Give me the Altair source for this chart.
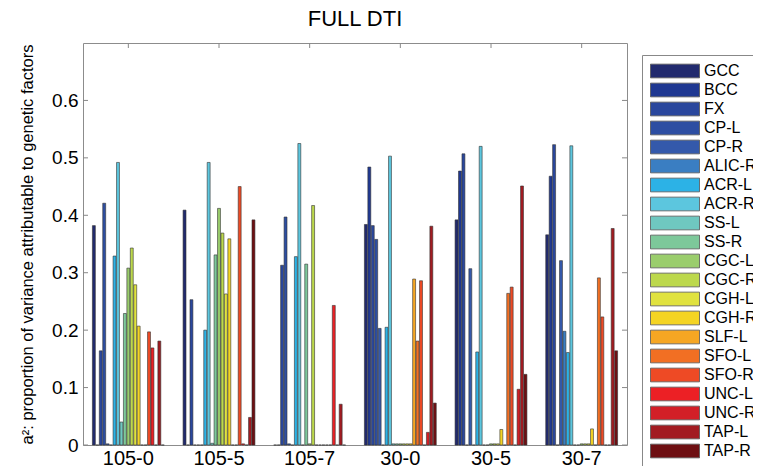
import altair as alt
import pandas as pd

groups = ["105-0", "105-5", "105-7", "30-0", "30-5", "30-7"]
regions = ["GCC", "BCC", "FX", "CP-L", "CP-R", "ALIC-R", "ACR-L", "ACR-R", "SS-L", "SS-R",
           "CGC-L", "CGC-R", "CGH-L", "CGH-R", "SLF-L", "SFO-L", "SFO-R", "UNC-L", "UNC-R",
           "TAP-L", "TAP-R"]
colors = ["#212A6E", "#1F3892", "#2A479D", "#2D4EA2", "#3459AB", "#3A7EC2", "#2CB2E6",
          "#5CC6DE", "#6FC8C0", "#7DC89A", "#9ACD6C", "#BCD84C", "#E0E23F", "#F4D423",
          "#F6A623", "#F26F23", "#EE4A25", "#EC2025", "#D21F27", "#A21B21", "#6E0F12"]

v_105_0 = [0.382, 0, 0.164, 0.421, 0.002, 0, 0.329, 0.492, 0.040, 0.229, 0.308, 0.343,
           0.279, 0.207, 0, 0, 0.197, 0.169, 0, 0.181, 0]
v_105_5 = [0.409, 0, 0.253, 0, 0, 0, 0.200, 0.492, 0.003, 0.331, 0.412, 0.369,
           0.263, 0.359, 0, 0, 0.450, 0.002, 0, 0.048, 0.392]
v_105_7 = [0, 0, 0.313, 0.397, 0.002, 0, 0.328, 0.525, 0, 0.315, 0.002, 0.417,
           0, 0, 0, 0, 0, 0.243, 0, 0.071, 0]
v_30_0 = [0.384, 0.484, 0.382, 0.358, 0.203, 0, 0.205, 0.503, 0.002, 0.002, 0.002, 0.002,
          0.002, 0.002, 0.289, 0.181, 0.286, 0, 0.022, 0.381, 0.073]
v_30_5 = [0.392, 0.477, 0.507, 0, 0.307, 0, 0.162, 0.520, 0, 0, 0.002, 0.002,
          0.002, 0.027, 0, 0.264, 0.275, 0, 0.097, 0.451, 0.123]
v_30_7 = [0.366, 0.468, 0.523, 0, 0.321, 0.198, 0.161, 0.521, 0, 0, 0.002, 0.002,
          0.002, 0.028, 0, 0.291, 0.223, 0, 0, 0.377, 0.164]

y_ticks = [0, 0.1, 0.2, 0.3, 0.4, 0.5, 0.6]

series = [v_105_0, v_105_5, v_105_7, v_30_0, v_30_5, v_30_7]
rows = []
for g, vals in zip(groups, series):
    for r, v in zip(regions, vals):
        rows.append({"group": g, "region": r, "value": v})
df = pd.DataFrame(rows)
ticks_df = pd.DataFrame({"t": y_ticks})
groups_df = pd.DataFrame({"group": groups})

W, H = 544, 402
FONT = "Liberation Sans"

x_enc = alt.X("group:N", sort=groups,
              scale=alt.Scale(paddingInner=0.2, paddingOuter=0.1),
              axis=alt.Axis(title=None, labelAngle=0, labelFontSize=20, labelColor="black",
                            labelPadding=3, ticks=False, domain=False, labelFont=FONT))
y_scale = alt.Scale(domain=[0, 0.7], nice=False)

bars = alt.Chart(df).mark_bar(stroke="#333333", strokeWidth=0.6, opacity=1).encode(
    x=x_enc,
    xOffset=alt.XOffset("region:N", sort=regions,
                        scale=alt.Scale(paddingInner=0.15, paddingOuter=0.1)),
    y=alt.Y("value:Q", scale=y_scale,
            axis=alt.Axis(values=y_ticks, title="a²: proportion of variance attributable to genetic factors",
                          titleFontSize=16.5, titleFontWeight="normal", titleColor="black",
                          titleFont=FONT, titlePadding=16,
                          labelFontSize=19, labelColor="black", labelFont=FONT, labelPadding=5,
                          labelExpr="datum.value == 0 ? '0' : format(datum.value, '.1f')",
                          ticks=False, domain=False, grid=False)),
    color=alt.Color("region:N", sort=regions,
                    scale=alt.Scale(domain=regions, range=colors),
                    legend=alt.Legend(orient="none", legendX=559, legendY=12, title=None,
                                      symbolType="M-1,-0.28L1,-0.28L1,0.28L-1,0.28Z",
                                      symbolSize=2401, clipHeight=16, rowPadding=3,
                                      labelFontSize=16, labelFont=FONT, labelColor="black",
                                      labelOffset=4, padding=8, strokeColor="#888888",
                                      fillColor="white", symbolStrokeColor="#555555",
                                      symbolStrokeWidth=0.8, symbolOpacity=1, labelLimit=300,
                                      values=regions))
)

left_ticks = alt.Chart(ticks_df).mark_rule(color="#888888", strokeWidth=1).encode(
    y=alt.Y("t:Q", scale=y_scale), x=alt.value(0), x2=alt.value(5))
right_ticks = alt.Chart(ticks_df).mark_rule(color="#888888", strokeWidth=1).encode(
    y=alt.Y("t:Q", scale=y_scale), x=alt.value(W - 5), x2=alt.value(W))
top_ticks = alt.Chart(groups_df).mark_rule(color="#888888", strokeWidth=1).encode(
    x=alt.X("group:N", sort=groups), y=alt.value(0), y2=alt.value(5))

chart = alt.layer(bars, left_ticks, right_ticks, top_ticks).properties(
    width=W, height=H,
    title=alt.TitleParams("FULL DTI", fontSize=22, fontWeight="normal", font=FONT,
                          color="black", offset=12),
    autosize=alt.AutoSizeParams(type="none"),
    padding={"left": 75, "top": 35, "right": 126, "bottom": 21},
).configure_view(stroke="#8c8c8c", strokeWidth=1)

chart.save("out.html", embed_options={"renderer": "svg", "actions": False})
